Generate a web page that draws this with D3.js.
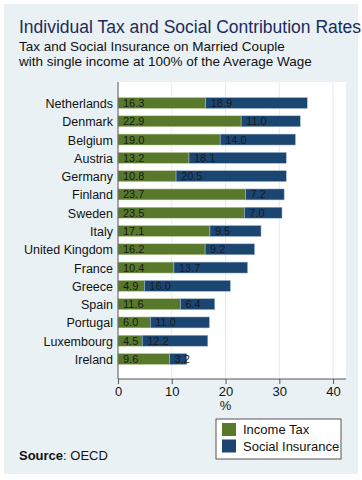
<!DOCTYPE html>
<html><head><meta charset="utf-8">
<script src="https://cdn.jsdelivr.net/npm/d3@7"></script>
<style>body{margin:0;background:#fff;}svg{display:block;font-family:"Liberation Sans",Arial,sans-serif;}</style>
</head><body>
<svg id="c" width="362" height="480"></svg>
<script>
const countries = ["Netherlands","Denmark","Belgium","Austria","Germany","Finland","Sweden","Italy","United Kingdom","France","Greece","Spain","Portugal","Luxembourg","Ireland"];
const incomeTax = [16.3,22.9,19.0,13.2,10.8,23.7,23.5,17.1,16.2,10.4,4.9,11.6,6.0,4.5,9.6];
const socialIns = [18.9,11.0,14.0,18.1,20.5,7.2,7.0,9.5,9.2,13.7,16.0,6.4,11.0,12.2,3.2];
const xTicks = [0,10,20,30,40];
const seriesNames = ["Income Tax","Social Insurance"];
const colors = ["#58782c","#1c4672"];

const svg = d3.select("#c");
svg.append("rect").attr("x",4).attr("y",4).attr("width",354).attr("height",470).attr("fill","#e9f1f4");
svg.append("text").attr("x",19).attr("y",33).attr("font-size",17.5).attr("fill","#1b2b5b").text("Individual Tax and Social Contribution Rates");
svg.append("text").attr("x",19).attr("y",51).attr("font-size",13.5).attr("fill","#111").text("Tax and Social Insurance on Married Couple");
svg.append("text").attr("x",19).attr("y",66).attr("font-size",13.5).attr("fill","#111").text("with single income at 100% of the Average Wage");

const L=118, R=346, T=82, B=379;
svg.append("rect").attr("x",L).attr("y",T).attr("width",R-L).attr("height",B-T).attr("fill","#fff");
const x = d3.scaleLinear().domain([0,42.4]).range([L,R]);
const y = d3.scaleBand().domain(countries).range([97.5,364.5]).paddingInner(0.4).paddingOuter(0);

svg.append("g").selectAll("line").data(xTicks.slice(1)).join("line")
  .attr("x1",d=>x(d)).attr("x2",d=>x(d)).attr("y1",T).attr("y2",B).attr("stroke","#e3ebef").attr("stroke-width",1);

const rows = svg.append("g").selectAll("g").data(countries).join("g");
rows.append("rect").attr("x",x(0)).attr("y",d=>y(d)).attr("height",y.bandwidth())
  .attr("width",(d,i)=>x(incomeTax[i])-x(0)).attr("fill",colors[0]).attr("stroke","#c9d6a8").attr("stroke-width",0.5);
rows.append("rect").attr("x",(d,i)=>x(incomeTax[i])).attr("y",d=>y(d)).attr("height",y.bandwidth())
  .attr("width",(d,i)=>x(incomeTax[i]+socialIns[i])-x(incomeTax[i])).attr("fill",colors[1]).attr("stroke","#a9bfd6").attr("stroke-width",0.5);
rows.append("text").attr("x",x(0)+5).attr("y",d=>y(d)+y.bandwidth()/2+4).attr("font-size",11).attr("fill","#1a1a1a")
  .text((d,i)=>incomeTax[i].toFixed(1));
rows.append("text").attr("x",(d,i)=>x(incomeTax[i])+5).attr("y",d=>y(d)+y.bandwidth()/2+4).attr("font-size",11).attr("fill","#1a1a1a")
  .text((d,i)=>socialIns[i].toFixed(1));
rows.append("text").attr("x",L-5).attr("y",d=>y(d)+y.bandwidth()/2+5).attr("text-anchor","end").attr("font-size",12.5).attr("fill","#111")
  .text(d=>d);

const ax = svg.append("g").attr("transform",`translate(0,${B})`)
  .call(d3.axisBottom(x).tickValues(xTicks).tickSize(5).tickPadding(3));
ax.select(".domain").attr("stroke","#555").attr("d",`M${L},0H${R}`);
ax.selectAll(".tick line").attr("stroke","#555");
ax.selectAll("text").attr("font-size",13).attr("fill","#111").attr("font-family","Liberation Sans, Arial, sans-serif");
svg.append("line").attr("x1",L).attr("x2",L).attr("y1",T).attr("y2",B).attr("stroke","#555").attr("stroke-width",1);
svg.append("text").attr("x",x(20)).attr("y",410).attr("text-anchor","middle").attr("font-size",13).attr("fill","#111").text("%");

const lg = svg.append("g");
lg.append("rect").attr("x",216).attr("y",419).attr("width",125).attr("height",40).attr("fill","#fff").attr("stroke","#555").attr("stroke-width",1);
seriesNames.forEach((n,i)=>{
  lg.append("rect").attr("x",222).attr("y",423+i*16.5).attr("width",14).attr("height",13).attr("fill",colors[i]);
  lg.append("text").attr("x",243).attr("y",434+i*16.5).attr("font-size",13).attr("fill","#111").text(n);
});
const src = svg.append("text").attr("x",19).attr("y",460).attr("font-size",13).attr("fill","#111");
src.append("tspan").attr("font-weight","bold").text("Source");
src.append("tspan").text(": OECD");
</script>
</body></html>
